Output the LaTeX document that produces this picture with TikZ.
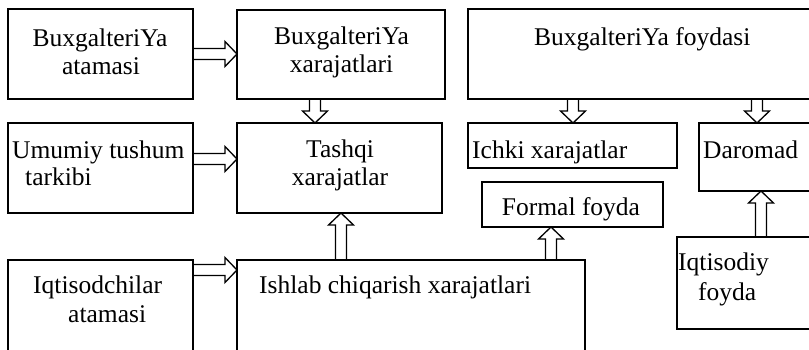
\documentclass[tikz,border=0pt]{standalone}
\usepackage{fontspec}
\setmainfont{Liberation Serif}
\usetikzlibrary{calc}
\tikzset{
  box/.style={draw, line width=1.3pt, inner sep=0pt, outer sep=0pt, anchor=north west},
  txt/.style={inner sep=0pt, font=\fontsize{25.5}{27}\selectfont},
  fat/.style={draw, line width=1.3pt, line join=miter, to path={
    let \p1=(\tikztostart), \p2=(\tikztotarget),
        \n1={veclen(\x2-\x1,\y2-\y1)}, \n2={atan2(\y2-\y1,\x2-\x1)} in
    {[shift={(\p1)}, rotate=\n2]
     (0pt,5.5pt) -- (\n1-12pt,5.5pt) -- (\n1-12pt,12.5pt) -- (\n1,0pt)
     -- (\n1-12pt,-12.5pt) -- (\n1-12pt,-5.5pt) -- (0pt,-5.5pt)}
  }}
}
\begin{document}
\begin{tikzpicture}[x=1pt,y=-1pt]
\useasboundingbox (0,0) rectangle (809,349);
\clip (0,0) rectangle (809,349);
% boxes
\node[box, minimum width=185pt, minimum height=90pt] (A) at (8,9) {};
\node[box, minimum width=208pt, minimum height=89pt] (B) at (237,10) {};
\node[box, minimum width=352pt, minimum height=90pt] (C) at (468,9) {};
\node[box, minimum width=185pt, minimum height=90pt] (D) at (8,123) {};
\node[box, minimum width=205pt, minimum height=90pt] (E) at (237,123) {};
\node[box, minimum width=209pt, minimum height=45pt] (F) at (468,123) {};
\node[box, minimum width=121pt, minimum height=68pt] (G) at (699,123) {};
\node[box, minimum width=181pt, minimum height=45pt] (H) at (482,182) {};
\node[box, minimum width=348pt, minimum height=100pt] (I) at (237,260) {};
\node[box, minimum width=185pt, minimum height=100pt] (J) at (8,260) {};
\node[box, minimum width=143pt, minimum height=92pt] (K) at (677,237) {};
% texts
\node[txt, anchor=base] (tA1) at (100,46) {BuxgalteriYa};
\node[txt, anchor=base] (tA2) at (101,74) {atamasi};
\node[txt, anchor=base] (tB1) at (341.5,44) {BuxgalteriYa};
\node[txt, anchor=base] (tB2) at (341.5,72) {xarajatlari};
\node[txt, anchor=base west] (tC) at (534,45) {BuxgalteriYa foydasi};
\node[txt, anchor=base west] (tD1) at (12,158) {Umumiy tushum};
\node[txt, anchor=base west] (tD2) at (25,185) {tarkibi};
\node[txt, anchor=base] (tE1) at (340,157) {Tashqi};
\node[txt, anchor=base] (tE2) at (340,185) {xarajatlar};
\node[txt, anchor=base west] (tF) at (472,158) {Ichki xarajatlar};
\node[txt, anchor=base west] (tG) at (703,158) {Daromad};
\node[txt, anchor=base] (tH) at (571,215) {Formal foyda};
\node[txt, anchor=base west] (tI) at (259,293) {Ishlab chiqarish xarajatlari};
\node[txt, anchor=base west] (tJ1) at (33,293) {Iqtisodchilar};
\node[txt, anchor=base west] (tJ2) at (68,322) {atamasi};
\node[txt, anchor=base west] (tK1) at (678,270) {Iqtisodiy};
\node[txt, anchor=base west] (tK2) at (698,300) {foyda};
% arrows
\path[fat] (A.east) to (A.east -| B.west);
\path[fat] ([yshift=9pt]D.east) to ([yshift=9pt]D.east -| E.west);
\path[fat] ([yshift=-10pt]J.north east) to ([yshift=-10pt]J.north east -| I.west);
\path[fat] ([xshift=-26pt]B.south) to ([xshift=-26pt]B.south |- E.north);
\path[fat] ([xshift=104pt]I.north west) to ([xshift=104pt]I.north west |- E.south);
\path[fat] ([xshift=314pt]I.north west) to ([xshift=314pt]I.north west |- H.south);
\path[fat] ([xshift=105pt]C.south west) to ([xshift=105pt]C.south west |- F.north);
\path[fat] ([xshift=289pt]C.south west) to ([xshift=289pt]C.south west |- G.north);
\path[fat] ([xshift=84pt]K.north west) to ([xshift=84pt]K.north west |- G.south);
\end{tikzpicture}
\end{document}
